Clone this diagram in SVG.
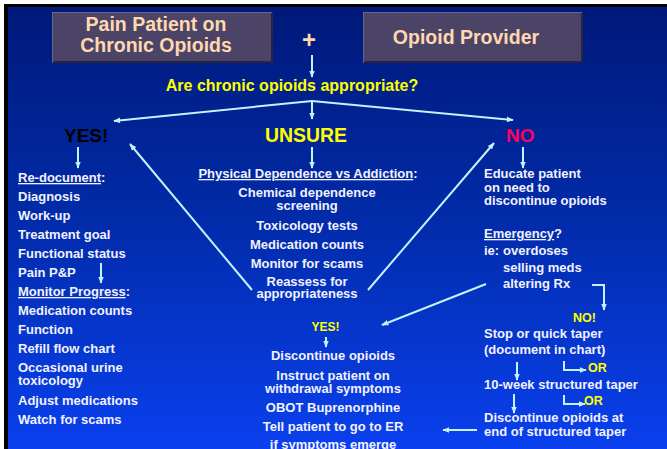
<svg xmlns="http://www.w3.org/2000/svg" width="667" height="449" viewBox="0 0 667 449">
  <defs>
    <linearGradient id="bg" x1="0" y1="0" x2="0" y2="1">
      <stop offset="0" stop-color="#00197a"/>
      <stop offset="0.45" stop-color="#012aa6"/>
      <stop offset="1" stop-color="#0a40ee"/>
    </linearGradient>
    <marker id="arr" viewBox="0 0 10 10" refX="9" refY="5" markerWidth="7" markerHeight="7" markerUnits="userSpaceOnUse" orient="auto">
      <path d="M0,1 L10,5 L0,9 Z" fill="#c4f2ff"/>
    </marker>
    <style>
      text { font-family: "Liberation Sans", Arial, sans-serif; font-weight: bold; }
      .title { font-size: 19.5px; fill: #ffd8b0; }
      .body { font-size: 13px; fill: #f2f2ff; }
      .yel { fill: #ffff00; }
      .mid { text-anchor: middle; }
      .box { fill: #4b4467; stroke: #6b6585; stroke-width: 1; }
      .boxshade { fill: none; stroke: #2a2440; stroke-width: 2; }
      .conn { fill: none; stroke: #c4f2ff; stroke-width: 2; }
    </style>
  </defs>

  <!-- page frame -->
  <rect x="0" y="0" width="667" height="449" fill="#ffffff"/>
  <rect x="4" y="4" width="663" height="445" fill="#000000"/>
  <rect x="8" y="7" width="659" height="442" fill="url(#bg)"/>

  <g id="patient-box">
    <rect class="box" x="52.5" y="12.5" width="219" height="50"/>
    <path class="boxshade" d="M53,62 H272 V13"/>
    <text class="title mid" x="156" y="31">Pain Patient on</text>
    <text class="title mid" x="156" y="52">Chronic Opioids</text>
  </g>

  <g id="plus">
    <text class="mid" x="309" y="48" font-size="24" fill="#ffd8b0">+</text>
  </g>

  <g id="provider-box">
    <rect class="box" x="363.5" y="12.5" width="218" height="50"/>
    <path class="boxshade" d="M364,62 H582 V13"/>
    <text class="title mid" x="466" y="44">Opioid Provider</text>
  </g>

  <g id="question">
    <text class="yel mid" x="292" y="91" font-size="16">Are chronic opioids appropriate?</text>
  </g>

  <g id="yes">
    <text x="64" y="142" font-size="19" fill="#000000">YES!</text>
  </g>
  <g id="unsure">
    <text class="yel" x="265" y="142" font-size="19.4">UNSURE</text>
  </g>
  <g id="no">
    <text x="506" y="142" font-size="19" fill="#ff0062">NO</text>
  </g>

  <g id="yes-list">
    <text class="body" x="18" y="182"><tspan text-decoration="underline">Re-document</tspan>:</text>
    <text class="body" x="18" y="201">Diagnosis</text>
    <text class="body" x="18" y="220">Work-up</text>
    <text class="body" x="18" y="239">Treatment goal</text>
    <text class="body" x="18" y="258">Functional status</text>
    <text class="body" x="18" y="277">Pain P&amp;P</text>
    <text class="body" x="18" y="296"><tspan text-decoration="underline">Monitor Progress</tspan>:</text>
    <text class="body" x="18" y="315">Medication counts</text>
    <text class="body" x="18" y="334">Function</text>
    <text class="body" x="18" y="353">Refill flow chart</text>
    <text class="body" x="18" y="372">Occasional urine</text>
    <text class="body" x="18" y="385">toxicology</text>
    <text class="body" x="18" y="405">Adjust medications</text>
    <text class="body" x="18" y="424">Watch for scams</text>
  </g>

  <g id="unsure-list">
    <text class="body mid" x="308" y="178"><tspan text-decoration="underline">Physical Dependence vs Addiction</tspan>:</text>
    <text class="body mid" x="307" y="197">Chemical dependence</text>
    <text class="body mid" x="307" y="210">screening</text>
    <text class="body mid" x="307" y="230">Toxicology tests</text>
    <text class="body mid" x="307" y="249">Medication counts</text>
    <text class="body mid" x="307" y="268">Monitor for scams</text>
    <text class="body mid" x="307" y="286">Reassess for</text>
    <text class="body mid" x="307" y="298">appropriateness</text>
  </g>

  <g id="no-educate">
    <text class="body" x="484" y="178">Educate patient</text>
    <text class="body" x="484" y="192">on need to</text>
    <text class="body" x="484" y="205">discontinue opioids</text>
  </g>

  <g id="emergency">
    <text class="body" x="484" y="238"><tspan text-decoration="underline">Emergency</tspan>?</text>
    <text class="body" x="484" y="255">ie:</text>
    <text class="body" x="503" y="255">overdoses</text>
    <text class="body" x="503" y="272">selling meds</text>
    <text class="body" x="503" y="288">altering Rx</text>
  </g>

  <g id="emergency-yes">
    <text class="yel mid" x="325.5" y="331" font-size="12">YES!</text>
    <text class="body mid" x="333" y="360">Discontinue opioids</text>
    <text class="body mid" x="333" y="380">Instruct patient on</text>
    <text class="body mid" x="333" y="393">withdrawal symptoms</text>
    <text class="body mid" x="333" y="412">OBOT Buprenorphine</text>
    <text class="body mid" x="333" y="431">Tell patient to go to ER</text>
    <text class="body mid" x="333" y="449">if symptoms emerge</text>
  </g>

  <g id="emergency-no">
    <text class="yel" x="573" y="322" font-size="12.5">NO!</text>
    <text class="body" x="484" y="338">Stop or quick taper</text>
    <text class="body" x="484" y="354">(document in chart)</text>
    <text class="yel" x="588" y="372" font-size="12.5">OR</text>
    <text class="body" x="484" y="389">10-week structured taper</text>
    <text class="yel" x="584" y="405" font-size="12.5">OR</text>
    <text class="body" x="484" y="422">Discontinue opioids at</text>
    <text class="body" x="484" y="436">end of structured taper</text>
  </g>

  <g id="connectors">
    <line class="conn" x1="312" y1="55" x2="312" y2="77" marker-end="url(#arr)"/>
    <line class="conn" x1="312" y1="101" x2="114" y2="121" marker-end="url(#arr)"/>
    <line class="conn" x1="312" y1="101" x2="513" y2="120" marker-end="url(#arr)"/>
    <line class="conn" x1="312" y1="101" x2="312" y2="119" marker-end="url(#arr)"/>
    <line class="conn" x1="78" y1="147" x2="78" y2="168" marker-end="url(#arr)"/>
    <line class="conn" x1="312" y1="147" x2="312" y2="168" marker-end="url(#arr)"/>
    <line class="conn" x1="523" y1="147" x2="523" y2="168" marker-end="url(#arr)"/>
    <line class="conn" x1="101" y1="263" x2="101" y2="283" marker-end="url(#arr)"/>
    <line class="conn" x1="252" y1="290" x2="130" y2="144" marker-end="url(#arr)"/>
    <line class="conn" x1="368" y1="290" x2="494" y2="143" marker-end="url(#arr)"/>
    <line class="conn" x1="486" y1="284" x2="382" y2="325" marker-end="url(#arr)"/>
    <path class="conn" d="M592,285 H604 V310" marker-end="url(#arr)"/>
    <line class="conn" x1="326" y1="337" x2="326" y2="347" marker-end="url(#arr)"/>
    <path class="conn" d="M564,361 V370 H586" marker-end="url(#arr)"/>
    <path class="conn" d="M564,395 V404 H585" marker-end="url(#arr)"/>
    <line class="conn" x1="517" y1="362" x2="517" y2="380" marker-end="url(#arr)"/>
    <line class="conn" x1="514" y1="394" x2="514" y2="413" marker-end="url(#arr)"/>
    <line class="conn" x1="477" y1="430" x2="443" y2="430" marker-end="url(#arr)"/>
  </g>
</svg>
